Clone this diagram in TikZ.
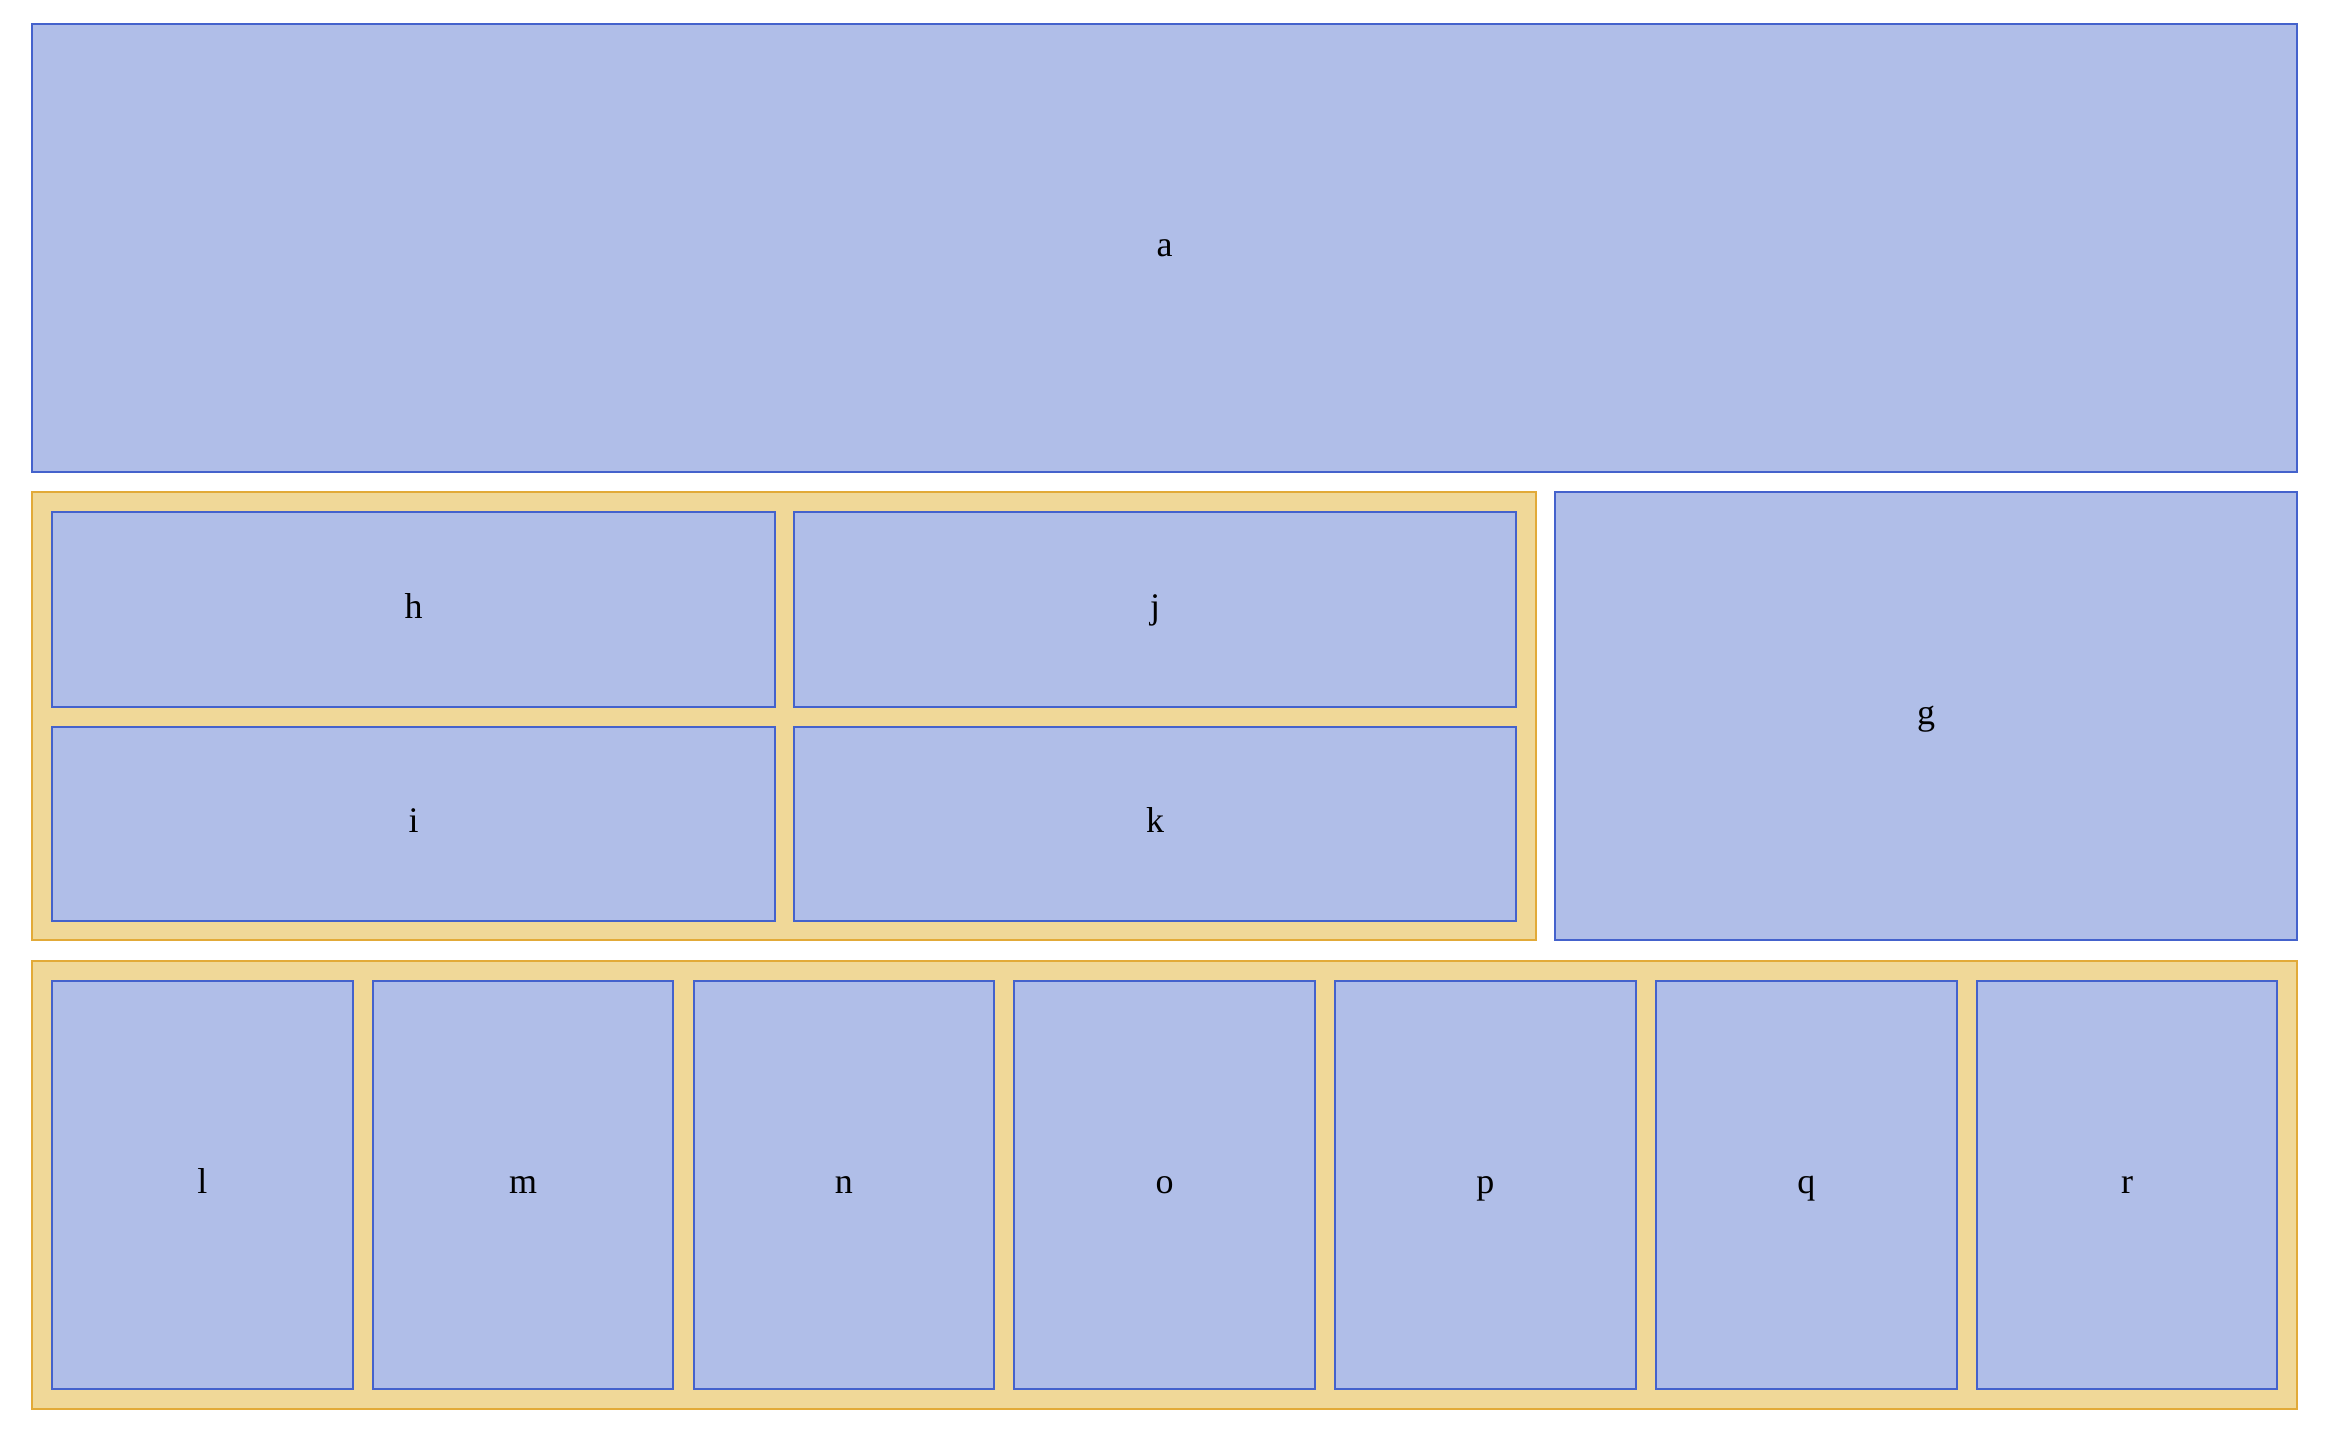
\documentclass[tikz,border=0pt]{standalone}
\usepackage{fontspec}
\setmainfont{Liberation Serif}
\definecolor{bfill}{RGB}{176,190,232}
\definecolor{bstroke}{RGB}{68,98,204}
\definecolor{ofill}{RGB}{240,216,152}
\definecolor{ostroke}{RGB}{226,170,56}
\begin{document}
\begin{tikzpicture}[x=0.5pt,y=-0.5pt,
  blk/.style={draw=bstroke, fill=bfill, line width=1pt, inner sep=0pt, text height=13pt, text depth=4.3pt, font=\fontsize{18}{20}\selectfont},
  panel/.style={draw=ostroke, fill=ofill, line width=1pt, inner sep=0pt}]
\useasboundingbox (0,0) rectangle (2328,1434);
\newcommand\bx[6]{\node[#1, minimum width=#4*0.5pt, minimum height=#5*0.5pt] (#2) at (#3) {#6};}
\bx{blk}{a}{1164.5,248}{2265}{448}{a}
\bx{panel}{p1}{784,716}{1504}{448}{}
\bx{blk}{g}{1926,716}{742}{448}{g}
\bx{blk}{h}{413.5,609.5}{723}{195}{h}
\bx{blk}{j}{1155,609.5}{722}{195}{j}
\bx{blk}{i}{413.5,824}{723}{194}{i}
\bx{blk}{k}{1155,824}{722}{194}{k}
\bx{panel}{p2}{1164.5,1185}{2265}{448}{}
\foreach \t [count=\n from 0] in {l,m,n,o,p,q,r}{
  \pgfmathsetmacro\cx{202.25+\n*320.8}
  \bx{blk}{\t}{\cx,1185}{300.5}{408}{\t}
}
\end{tikzpicture}
\end{document}
